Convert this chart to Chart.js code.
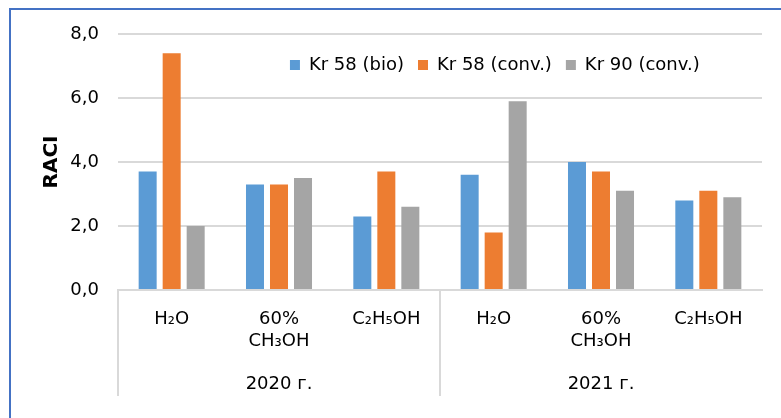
<!DOCTYPE html>
<html>
<head>
<meta charset="utf-8">
<script src="https://cdn.jsdelivr.net/npm/chart.js@4/dist/chart.umd.min.js"></script>
<style>
  html, body { margin: 0; padding: 0; background: #fff; overflow: hidden; }
  #wrap { position: relative; width: 781px; height: 418px; overflow: hidden; }
  #frame {
    position: absolute; left: 9px; top: 8px;
    width: 820px; height: 440px;
    border: 2px solid #4472c4;
  }
  #grafico { position: absolute; left: 0; top: 0; }
</style>
</head>
<body>
<div id="wrap">
  <div id="frame"></div>
  <canvas id="grafico" width="781" height="418"></canvas>
</div>
<script>
// categorias (solvente) e grupos (ano)
const solventes = ["H₂O", ["60%", "CH₃OH"], "C₂H₅OH", "H₂O", ["60%", "CH₃OH"], "C₂H₅OH"];
const anos = ["2020 г.", "2021 г."];

// valores RACI por variedade
const kr58bio = [3.7, 3.3, 2.3, 3.6, 4.0, 2.8];
const kr58conv = [7.4, 3.3, 3.7, 1.8, 3.7, 3.1];
const kr90conv = [2.0, 3.5, 2.6, 5.9, 3.1, 2.9];

const yTicks = [0, 2, 4, 6, 8];

const FONTE = "'DejaVu Sans', Verdana, sans-serif";
const CINZA_GRADE = "#d9d9d9";

// legenda sem altura no layout, depois colocada dentro da área do gráfico
const posicaoLegenda = {
  id: "posicaoLegenda",
  beforeLayout(chart) {
    const legenda = chart.legend;
    if (legenda && !legenda._semAltura) {
      const fitOriginal = legenda.fit;
      legenda.fit = function () {
        fitOriginal.call(this);
        this._alturaReal = this.height;
        this.height = 0;
      };
      legenda._semAltura = true;
    }
  },
  afterLayout(chart) {
    const legenda = chart.legend;
    const area = chart.chartArea;
    const pad = legenda.options.labels.padding;
    const esquerda = area.left + (area.right - area.left) * 0.267 - pad;
    legenda.left = esquerda;
    legenda.right = esquerda + legenda.width;
    legenda.top = area.top + 8;
    legenda.height = legenda._alturaReal;
    legenda.bottom = legenda.top + legenda._alturaReal;
  }
};

function formatarValor(v) {
  return v.toFixed(1).replace(".", ",");
}

new Chart(document.getElementById("grafico"), {
  type: "bar",
  data: {
    labels: solventes,
    datasets: [
      { label: "Kr 58 (bio)", data: kr58bio, backgroundColor: "#5b9bd5" },
      { label: "Kr 58 (conv.)", data: kr58conv, backgroundColor: "#ed7d31" },
      { label: "Kr 90 (conv.)", data: kr90conv, backgroundColor: "#a5a5a5" }
    ]
  },
  options: {
    responsive: false,
    animation: false,
    devicePixelRatio: 1,
    categoryPercentage: 0.671,
    barPercentage: 0.75,
    layout: { padding: { left: 40, top: 34, right: 19, bottom: 22 } },
    plugins: {
      tooltip: { enabled: false },
      legend: {
        position: "top",
        align: "start",
        labels: {
          boxWidth: 10,
          boxHeight: 10,
          padding: 14,
          color: "#000",
          font: { family: FONTE, size: 18 }
        }
      }
    },
    scales: {
      y: {
        min: 0,
        max: 8,
        afterBuildTicks(axis) {
          axis.ticks = yTicks.map(v => ({ value: v }));
        },
        afterFit(axis) {
          axis.width = 78;
        },
        border: { display: false },
        grid: { color: CINZA_GRADE, lineWidth: 2, drawTicks: false },
        ticks: {
          padding: 19,
          color: "#000",
          font: { family: FONTE, size: 18 },
          callback: v => formatarValor(v)
        },
        title: {
          display: true,
          text: "RACI",
          color: "#000",
          padding: { top: 0, bottom: 6 },
          font: { family: FONTE, size: 20, weight: "bold" }
        }
      },
      x: {
        weight: 0,
        afterFit(axis) {
          axis.height = 63;
        },
        border: { display: true, color: CINZA_GRADE, width: 2 },
        grid: {
          offset: true,
          drawOnChartArea: false,
          drawTicks: true,
          tickLength: 106,
          lineWidth: 2,
          // só as divisões entre os anos
          color: ctx => (ctx.index % 3 === 0 ? CINZA_GRADE : "rgba(0,0,0,0)")
        },
        ticks: {
          padding: -88,
          autoSkip: false,
          maxRotation: 0,
          color: "#000",
          font: { family: FONTE, size: 18, lineHeight: 1.25 }
        }
      },
      grupo: {
        type: "category",
        position: "bottom",
        weight: 1,
        labels: anos,
        offset: true,
        afterFit(axis) {
          axis.height = 43;
        },
        border: { display: false },
        grid: { display: false, drawTicks: false },
        ticks: {
          padding: 20,
          color: "#000",
          font: { family: FONTE, size: 18, lineHeight: 1.25 }
        }
      }
    }
  },
  plugins: [posicaoLegenda]
});
</script>
</body>
</html>
